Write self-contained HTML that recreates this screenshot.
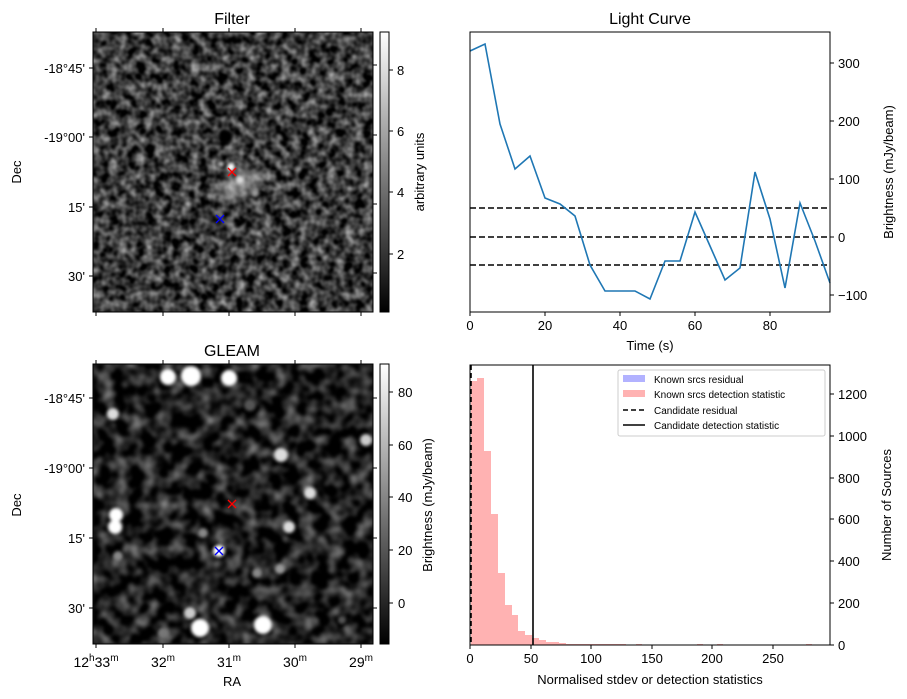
<!DOCTYPE html>
<html><head><meta charset="utf-8"><style>
html,body{margin:0;padding:0;background:#fff;}
svg{display:block;font-family:"Liberation Sans","DejaVu Sans",sans-serif;}
</style></head><body>
<svg width="907" height="699" viewBox="0 0 907 699" xmlns="http://www.w3.org/2000/svg">
<defs>
<filter id="nz1" x="0" y="0" width="100%" height="100%" color-interpolation-filters="sRGB">
<feTurbulence type="fractalNoise" baseFrequency="0.11" numOctaves="2" seed="3" result="t"/>
<feColorMatrix in="t" type="matrix" values="1.1 0 0 0 -0.32  1.1 0 0 0 -0.32  1.1 0 0 0 -0.32  0 0 0 0 1"/>
<feGaussianBlur stdDeviation="0.8"/>
</filter>
<filter id="nz2" x="0" y="0" width="100%" height="100%" color-interpolation-filters="sRGB">
<feTurbulence type="fractalNoise" baseFrequency="0.07" numOctaves="2" seed="8" result="t"/>
<feColorMatrix in="t" type="matrix" values="1.0 0 0 0 -0.38  1.0 0 0 0 -0.38  1.0 0 0 0 -0.38  0 0 0 0 1"/>
<feGaussianBlur stdDeviation="1.4"/>
</filter>
<filter id="bl" x="-100%" y="-100%" width="300%" height="300%"><feGaussianBlur stdDeviation="1.5"/></filter>
<filter id="bl4" x="-100%" y="-100%" width="300%" height="300%"><feGaussianBlur stdDeviation="5"/></filter>
<linearGradient id="cb" x1="0" y1="1" x2="0" y2="0"><stop offset="0" stop-color="#000"/><stop offset="1" stop-color="#fff"/></linearGradient>
<clipPath id="c1"><rect x="93" y="32" width="280" height="280"/></clipPath>
<clipPath id="c2"><rect x="93" y="364" width="280" height="280"/></clipPath>
</defs>

<!-- Filter image -->
<g clip-path="url(#c1)">
<rect x="93" y="32" width="280" height="280" fill="#333"/>
<rect x="93" y="32" width="280" height="280" filter="url(#nz1)"/>
<g filter="url(#bl4)" fill="#ccc" opacity="0.5"><ellipse cx="240" cy="185" rx="25" ry="12" transform="rotate(-30 240 185)"/></g>
<circle cx="226" cy="137" r="7" fill="#000" filter="url(#bl)"/>
<g filter="url(#bl)" fill="#fff"><circle cx="231" cy="167" r="4"/><circle cx="240" cy="180" r="4" fill="#ddd"/><circle cx="221" cy="164" r="3" fill="#bbb"/><circle cx="255" cy="193" r="4" fill="#999"/></g>
</g>
<rect x="93" y="32" width="280" height="280" fill="none" stroke="#000" stroke-width="1"/>
<g stroke="#f00" stroke-width="1.3"><line x1="228" y1="168" x2="236" y2="176"/><line x1="236" y1="168" x2="228" y2="176"/></g>
<g stroke="#00f" stroke-width="1.3"><line x1="216" y1="215" x2="224" y2="223"/><line x1="224" y1="215" x2="216" y2="223"/></g>
<text x="232" y="24" font-size="16" text-anchor="middle">Filter</text>
<g stroke="#000"><line x1="96" y1="32" x2="96" y2="28"/><line x1="163" y1="32" x2="163" y2="28"/><line x1="229" y1="32" x2="229" y2="28"/><line x1="295" y1="32" x2="295" y2="28"/><line x1="361" y1="32" x2="361" y2="28"/>
<line x1="96" y1="312" x2="96" y2="316"/><line x1="163" y1="312" x2="163" y2="316"/><line x1="229" y1="312" x2="229" y2="316"/><line x1="295" y1="312" x2="295" y2="316"/><line x1="361" y1="312" x2="361" y2="316"/>
<line x1="93" y1="68" x2="89" y2="68"/><line x1="93" y1="137" x2="89" y2="137"/><line x1="93" y1="207" x2="89" y2="207"/><line x1="93" y1="276" x2="89" y2="276"/>
<line x1="373" y1="65" x2="377" y2="65"/><line x1="373" y1="135" x2="377" y2="135"/><line x1="373" y1="204" x2="377" y2="204"/><line x1="373" y1="273" x2="377" y2="273"/></g>
<g font-size="13" text-anchor="end"><text x="85" y="73">-18°45'</text><text x="85" y="142">-19°00'</text><text x="85" y="212">15'</text><text x="85" y="281">30'</text></g>
<text transform="translate(21 172) rotate(-90)" font-size="13" text-anchor="middle">Dec</text>
<rect x="380" y="32" width="9" height="280" fill="url(#cb)" stroke="#000"/>
<g stroke="#000"><line x1="389" y1="254" x2="393" y2="254"/><line x1="389" y1="192" x2="393" y2="192"/><line x1="389" y1="131" x2="393" y2="131"/><line x1="389" y1="70" x2="393" y2="70"/></g>
<g font-size="13"><text x="397" y="259">2</text><text x="397" y="197">4</text><text x="397" y="136">6</text><text x="397" y="75">8</text></g>
<text transform="translate(424 172) rotate(-90)" font-size="13" text-anchor="middle">arbitrary units</text>

<!-- GLEAM image -->
<g clip-path="url(#c2)">
<rect x="93" y="364" width="280" height="280" fill="#222"/>
<rect x="93" y="364" width="280" height="280" filter="url(#nz2)"/>
<g fill="#fff" filter="url(#bl)">
<circle cx="168" cy="377" r="8"/><circle cx="191" cy="376" r="10"/><circle cx="229" cy="378" r="8"/>
<circle cx="113" cy="414" r="6" fill="#ddd"/><circle cx="366" cy="440" r="6" fill="#ccc"/><circle cx="281" cy="455" r="7" fill="#ddd"/>
<circle cx="310" cy="493" r="6" fill="#ddd"/><circle cx="116" cy="515" r="7"/><circle cx="115" cy="527" r="7"/>
<circle cx="289" cy="527" r="6" fill="#ddd"/><circle cx="219" cy="551" r="6"/><circle cx="118" cy="556" r="5" fill="#888"/>
<circle cx="203" cy="533" r="5" fill="#888"/><circle cx="257" cy="573" r="5" fill="#888"/><circle cx="280" cy="569" r="5" fill="#999"/>
<circle cx="190" cy="613" r="6" fill="#ccc"/><circle cx="200" cy="628" r="9"/><circle cx="263" cy="625" r="9"/><circle cx="163" cy="633" r="5" fill="#777"/>
<circle cx="250" cy="405" r="6" fill="#555"/><circle cx="342" cy="620" r="4" fill="#555"/>
</g>
</g>
<rect x="93" y="364" width="280" height="280" fill="none" stroke="#000" stroke-width="1"/>
<g stroke="#f00" stroke-width="1.3"><line x1="228" y1="500" x2="236" y2="508"/><line x1="236" y1="500" x2="228" y2="508"/></g>
<g stroke="#00f" stroke-width="1.3"><line x1="215" y1="547" x2="223" y2="555"/><line x1="223" y1="547" x2="215" y2="555"/></g>
<text x="232" y="356" font-size="16" text-anchor="middle">GLEAM</text>
<g stroke="#000"><line x1="96" y1="364" x2="96" y2="360"/><line x1="163" y1="364" x2="163" y2="360"/><line x1="229" y1="364" x2="229" y2="360"/><line x1="295" y1="364" x2="295" y2="360"/><line x1="361" y1="364" x2="361" y2="360"/>
<line x1="96" y1="644" x2="96" y2="648"/><line x1="163" y1="644" x2="163" y2="648"/><line x1="229" y1="644" x2="229" y2="648"/><line x1="295" y1="644" x2="295" y2="648"/><line x1="361" y1="644" x2="361" y2="648"/>
<line x1="93" y1="398" x2="89" y2="398"/><line x1="93" y1="468" x2="89" y2="468"/><line x1="93" y1="538" x2="89" y2="538"/><line x1="93" y1="608" x2="89" y2="608"/>
<line x1="373" y1="398" x2="377" y2="398"/><line x1="373" y1="468" x2="377" y2="468"/><line x1="373" y1="538" x2="377" y2="538"/><line x1="373" y1="608" x2="377" y2="608"/></g>
<g font-size="13" text-anchor="end"><text x="85" y="403">-18°45'</text><text x="85" y="473">-19°00'</text><text x="85" y="543">15'</text><text x="85" y="613">30'</text></g>
<text transform="translate(21 505) rotate(-90)" font-size="13" text-anchor="middle">Dec</text>
<g font-size="14" text-anchor="middle"><text x="96" y="667">12<tspan font-size="10" dy="-6">h</tspan><tspan dy="6">33</tspan><tspan font-size="10" dy="-6">m</tspan></text>
<text x="163" y="667">32<tspan font-size="10" dy="-6">m</tspan></text><text x="229" y="667">31<tspan font-size="10" dy="-6">m</tspan></text><text x="295" y="667">30<tspan font-size="10" dy="-6">m</tspan></text><text x="361" y="667">29<tspan font-size="10" dy="-6">m</tspan></text></g>
<text x="232" y="686" font-size="13" text-anchor="middle">RA</text>
<rect x="380" y="364" width="9" height="280" fill="url(#cb)" stroke="#000"/>
<g stroke="#000"><line x1="389" y1="603" x2="393" y2="603"/><line x1="389" y1="550" x2="393" y2="550"/><line x1="389" y1="497" x2="393" y2="497"/><line x1="389" y1="445" x2="393" y2="445"/><line x1="389" y1="392" x2="393" y2="392"/></g>
<g font-size="13"><text x="398" y="608">0</text><text x="398" y="555">20</text><text x="398" y="502">40</text><text x="398" y="450">60</text><text x="398" y="397">80</text></g>
<text transform="translate(432 505) rotate(-90)" font-size="13" text-anchor="middle">Brightness (mJy/beam)</text>

<!-- Light curve -->
<text x="650" y="24" font-size="16" text-anchor="middle">Light Curve</text>
<g stroke="#000" stroke-width="1.6" stroke-dasharray="6,3"><line x1="470" y1="208" x2="830" y2="208"/><line x1="470" y1="237" x2="830" y2="237"/><line x1="470" y1="265" x2="830" y2="265"/></g>
<polyline fill="none" stroke="#1f77b4" stroke-width="1.6" points="470,51 485,44 500,124 515,169 530,156 545,198 560,204 575,216 590,265 605,291 620,291 635,291 650,299 665,261 680,261 695,212 710,246 725,280 740,268 755,172 770,219 785,288 800,203 815,241 830,283"/>
<rect x="470" y="32" width="360" height="280" fill="none" stroke="#000"/>
<g stroke="#000"><line x1="470" y1="312" x2="470" y2="316"/><line x1="545" y1="312" x2="545" y2="316"/><line x1="620" y1="312" x2="620" y2="316"/><line x1="695" y1="312" x2="695" y2="316"/><line x1="770" y1="312" x2="770" y2="316"/>
<line x1="830" y1="63" x2="834" y2="63"/><line x1="830" y1="121" x2="834" y2="121"/><line x1="830" y1="179" x2="834" y2="179"/><line x1="830" y1="237" x2="834" y2="237"/><line x1="830" y1="295" x2="834" y2="295"/></g>
<g font-size="13" text-anchor="middle"><text x="470" y="330">0</text><text x="545" y="330">20</text><text x="620" y="330">40</text><text x="695" y="330">60</text><text x="770" y="330">80</text></g>
<g font-size="13"><text x="838" y="68">300</text><text x="838" y="126">200</text><text x="838" y="184">100</text><text x="838" y="242">0</text><text x="838" y="300">−100</text></g>
<text x="650" y="350" font-size="13" text-anchor="middle">Time (s)</text>
<text transform="translate(893 172) rotate(-90)" font-size="13" text-anchor="middle">Brightness (mJy/beam)</text>

<!-- Histogram -->
<g fill="#ffb2b2">
<rect x="471" y="381" width="6" height="264"/><rect x="477" y="378" width="7" height="267"/><rect x="484" y="451" width="7" height="194"/><rect x="491" y="514" width="7" height="131"/><rect x="498" y="573" width="7" height="72"/><rect x="505" y="605" width="7" height="40"/><rect x="512" y="615" width="6" height="30"/><rect x="518" y="631" width="7" height="14"/><rect x="525" y="635" width="7" height="10"/><rect x="532" y="638" width="7" height="7"/><rect x="539" y="640" width="7" height="5"/><rect x="546" y="642" width="13" height="3"/><rect x="559" y="643" width="7" height="2"/><rect x="566" y="644" width="60" height="1"/><rect x="636" y="644" width="6" height="1"/><rect x="697" y="644" width="6" height="1"/><rect x="717" y="644" width="6" height="1"/><rect x="806" y="644" width="6" height="1"/>
</g>
<line x1="471" y1="365" x2="471" y2="645" stroke="#000" stroke-width="1.6" stroke-dasharray="5,3"/>
<line x1="533" y1="365" x2="533" y2="645" stroke="#000" stroke-width="1.6"/>
<rect x="470" y="365" width="360" height="280" fill="none" stroke="#000"/>
<rect x="618" y="370" width="207" height="66" fill="#fff" stroke="#ccc" rx="2"/>
<rect x="623" y="375" width="22" height="7" fill="#b2b2ff"/><text x="654" y="383" font-size="10">Known srcs residual</text>
<rect x="623" y="390" width="22" height="7" fill="#ffb2b2"/><text x="654" y="398" font-size="10">Known srcs detection statistic</text>
<line x1="623" y1="410" x2="645" y2="410" stroke="#000" stroke-width="1.5" stroke-dasharray="5,3"/><text x="654" y="414" font-size="10">Candidate residual</text>
<line x1="623" y1="425" x2="645" y2="425" stroke="#000" stroke-width="1.5"/><text x="654" y="429" font-size="10">Candidate detection statistic</text>
<g stroke="#000"><line x1="470" y1="645" x2="470" y2="649"/><line x1="531" y1="645" x2="531" y2="649"/><line x1="591" y1="645" x2="591" y2="649"/><line x1="652" y1="645" x2="652" y2="649"/><line x1="712" y1="645" x2="712" y2="649"/><line x1="773" y1="645" x2="773" y2="649"/>
<line x1="830" y1="645" x2="834" y2="645"/><line x1="830" y1="603" x2="834" y2="603"/><line x1="830" y1="561" x2="834" y2="561"/><line x1="830" y1="519" x2="834" y2="519"/><line x1="830" y1="478" x2="834" y2="478"/><line x1="830" y1="436" x2="834" y2="436"/><line x1="830" y1="394" x2="834" y2="394"/></g>
<g font-size="13" text-anchor="middle"><text x="470" y="663">0</text><text x="531" y="663">50</text><text x="591" y="663">100</text><text x="652" y="663">150</text><text x="712" y="663">200</text><text x="773" y="663">250</text></g>
<g font-size="13"><text x="838" y="650">0</text><text x="838" y="608">200</text><text x="838" y="566">400</text><text x="838" y="524">600</text><text x="838" y="483">800</text><text x="838" y="441">1000</text><text x="838" y="399">1200</text></g>
<text x="650" y="684" font-size="13" text-anchor="middle">Normalised stdev or detection statistics</text>
<text transform="translate(891 505) rotate(-90)" font-size="13" text-anchor="middle">Number of Sources</text>
</svg>
</body></html>
